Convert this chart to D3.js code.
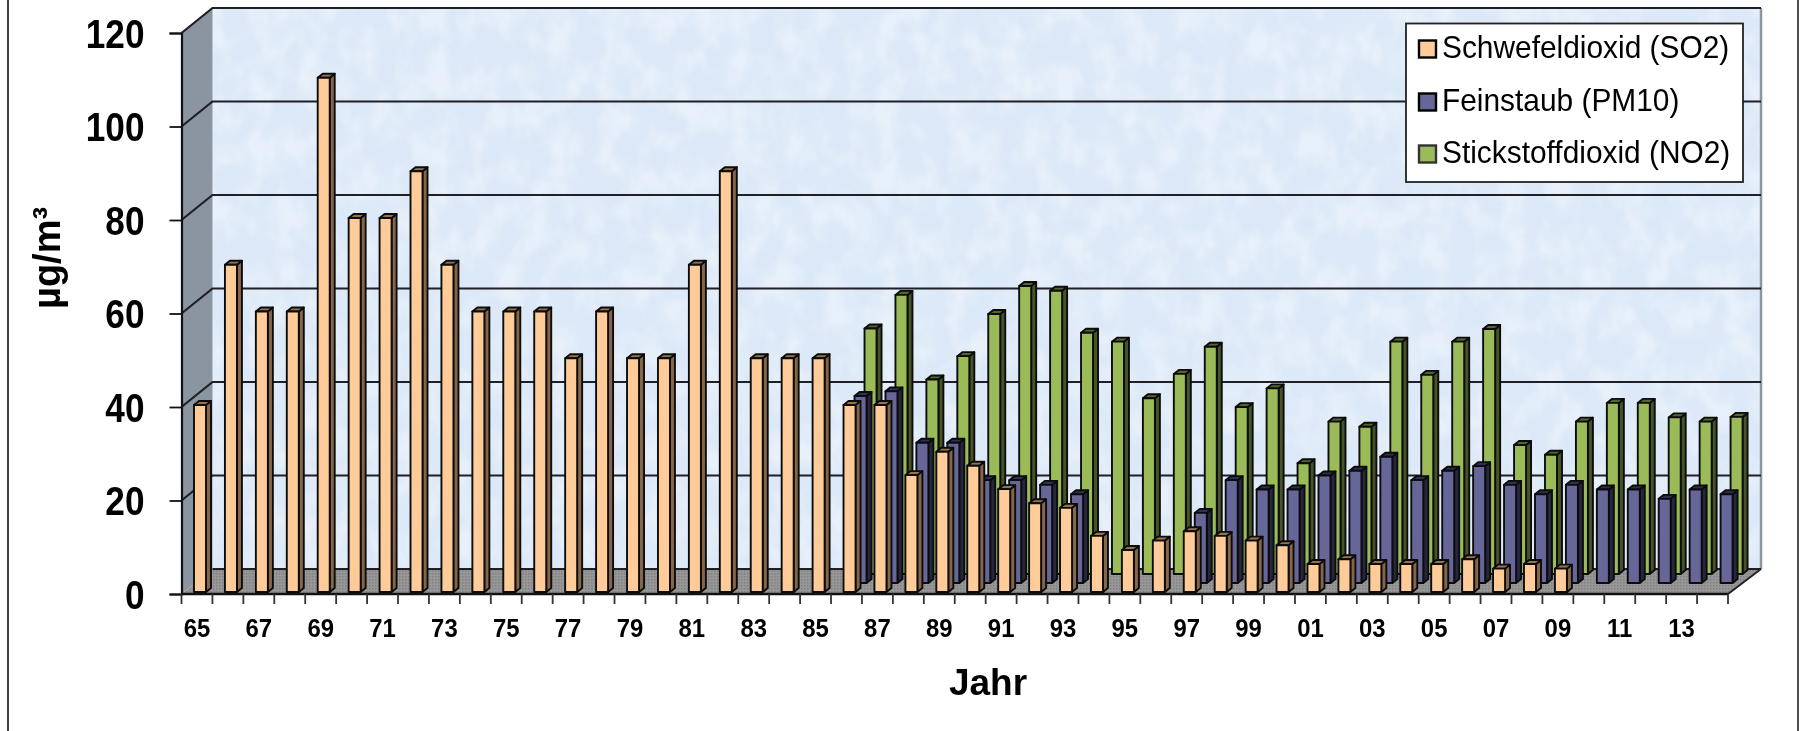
<!DOCTYPE html>
<html><head><meta charset="utf-8">
<script src="https://cdn.jsdelivr.net/npm/d3@7"></script>
<style>html,body{margin:0;padding:0;background:#fff;overflow:hidden}svg{display:block;filter:blur(0.6px)}text{font-family:"Liberation Sans",Arial,sans-serif;fill:#000}</style>
</head><body><svg id="c" width="1799" height="731"></svg>
<script>
const years = ["65","66","67","68","69","70","71","72","73","74","75","76","77","78","79","80","81","82","83","84","85","86","87","88","89","90","91","92","93","94","95","96","97","98","99","00","01","02","03","04","05","06","07","08","09","10","11","12","13","14"];
const so2 = [40,70,60,60,110,80,80,90,70,60,60,60,50,60,50,50,70,90,50,50,50,40,40,25,30,27,22,19,18,12,9,11,13,12,11,10,6,7,6,6,6,7,5,6,5,null,null,null,null,null];
const pm10 = [null,null,null,null,null,null,null,null,null,null,null,null,null,null,null,null,null,null,null,null,null,40,41,30,30,22,22,21,19,null,null,null,15,22,20,20,23,24,27,22,24,25,21,19,21,20,20,18,20,19];
const no2 = [null,null,null,null,null,null,null,null,null,null,null,null,null,null,null,null,null,null,null,null,null,52.5,59.7,41.6,46.6,55.6,61.6,60.6,51.6,49.7,37.6,42.8,48.6,35.7,39.7,23.7,32.6,31.5,49.7,42.6,49.7,52.4,27.6,25.5,32.6,36.6,36.6,33.5,32.6,33.6];
const yTicks = [0,20,40,60,80,100,120];
const seriesNames = ["Schwefeldioxid (SO2)","Feinstaub (PM10)","Stickstoffdioxid (NO2)"];
const xLabels = years.filter((d,i)=>i%2===0);

const svg = d3.select("#c");
const x = d3.scaleBand().domain(years).range([181.5,1728]);
const y = d3.scaleLinear().domain([0,120]).range([594,33]);
const step = x.step(), wallDx = 31, wallDy = 25, xEnd = 1728, xStart = 181.5;
const line = d3.line();

const defs = svg.append("defs");
const tex = defs.append("filter").attr("id","mott").attr("x",0).attr("y",0).attr("width","100%").attr("height","100%");
tex.append("feTurbulence").attr("type","fractalNoise").attr("baseFrequency","0.035 0.045").attr("numOctaves",4).attr("seed",7);
tex.append("feColorMatrix").attr("type","matrix").attr("values","0 0 0 0 0.72  0 0 0 0 0.80  0 0 0 0 0.92  2.4 0 0 0 -0.95");
const tex2 = defs.append("filter").attr("id","mott2").attr("x",0).attr("y",0).attr("width","100%").attr("height","100%");
tex2.append("feTurbulence").attr("type","fractalNoise").attr("baseFrequency","0.04 0.03").attr("numOctaves",3).attr("seed",23);
tex2.append("feColorMatrix").attr("type","matrix").attr("values","0 0 0 0 1  0 0 0 0 1  0 0 0 0 1  2.6 0 0 0 -1");
const pat = defs.append("pattern").attr("id","dith").attr("width",3).attr("height",3).attr("patternUnits","userSpaceOnUse");
pat.append("rect").attr("width",3).attr("height",3).attr("fill","#979797");
pat.append("rect").attr("width",1.5).attr("height",1.5).attr("fill","#828282");

// page frame
svg.append("path").attr("d",line([[8,0],[8,731]])).attr("stroke","#111").attr("stroke-width",1.6).attr("fill","none");
svg.append("path").attr("d",line([[1798,0],[1798,731]])).attr("stroke","#222").attr("stroke-width",1.6).attr("fill","none");

// back wall
const bx0 = xStart+wallDx, bx1 = xEnd+wallDx+2, by0 = y(120)-wallDy, by1 = y(0)-wallDy;
const wall = svg.append("g");
wall.append("rect").attr("x",bx0).attr("y",by0).attr("width",bx1-bx0).attr("height",by1-by0).attr("fill","#dce9f8");
wall.append("rect").attr("x",bx0).attr("y",by0).attr("width",bx1-bx0).attr("height",by1-by0).attr("filter","url(#mott)").attr("opacity",.45);
wall.append("rect").attr("x",bx0).attr("y",by0).attr("width",bx1-bx0).attr("height",by1-by0).attr("filter","url(#mott2)").attr("opacity",.35);
// left wall, floor
svg.append("path").attr("d",line([[xStart,y(120)],[bx0,by0],[bx0,by1],[xStart,y(0)]])+"Z").attr("fill","#8a95a1");
svg.append("path").attr("d",line([[xStart,y(0)],[xEnd,y(0)],[bx1,by1],[bx0,by1]])+"Z").attr("fill","url(#dith)");
svg.append("path").attr("d",line([[bx1,by0],[bx1,by1]])).attr("stroke","#8b96a3").attr("stroke-width",2.5);

// gridlines on the walls
const grid = svg.append("g").attr("fill","none").attr("stroke","#1f1f24").attr("stroke-width",2.2);
yTicks.forEach(v=>{
  const pts = v===0 ? [[bx0,y(v)-wallDy],[bx1,y(v)-wallDy]] : [[xStart,y(v)],[bx0,y(v)-wallDy],[bx1,y(v)-wallDy]];
  grid.append("path").attr("d",line(pts));
});

// bars
const series = [
  {vals:no2, off:33.5, base:20, f:"#9bbb59", s:"#465427", t:"#55652e"},
  {vals:pm10,off:23.5, base:11, f:"#666699", s:"#26263f", t:"#2f2f52"},
  {vals:so2, off:12.5, base:2,  f:"#ffcc99", s:"#86664a", t:"#96734f"}
];
const barW = 12, dx = 5, dy = 4;
series.forEach(S=>{
  const g = svg.append("g").attr("stroke","#0c0c0c").attr("stroke-width",1.9).attr("stroke-linejoin","round");
  const rows = years.map((yr,i)=>({yr,v:S.vals[i]})).filter(d=>d.v!==null);
  const bars = g.selectAll("g").data(rows).join("g");
  const X = d=>x(d.yr)+S.off;
  const B = y(0)-S.base;
  const T = d=>B-(y(0)-y(d.v));
  bars.append("path").attr("fill",S.s).attr("d",d=>line([[X(d)+barW,B],[X(d)+barW+dx,B-dy],[X(d)+barW+dx,T(d)-dy],[X(d)+barW,T(d)]])+"Z");
  bars.append("path").attr("fill",S.t).attr("d",d=>line([[X(d),T(d)],[X(d)+dx,T(d)-dy],[X(d)+barW+dx,T(d)-dy],[X(d)+barW,T(d)]])+"Z");
  bars.append("rect").attr("fill",S.f).attr("x",X).attr("y",T).attr("width",barW).attr("height",d=>B-T(d));
});

// axes
const ax = svg.append("g");
const yAxis = d3.axisLeft(y).tickValues(yTicks).tickSize(12).tickPadding(0).tickFormat(d3.format("d"));
const yG = ax.append("g").attr("transform",`translate(${xStart},0)`).call(yAxis);
yG.select(".domain").attr("stroke","#111").attr("stroke-width",2.2);
yG.selectAll(".tick line").attr("stroke","#111").attr("stroke-width",1.8);
yG.selectAll(".tick text").each(function(){
  d3.select(this).attr("x",null).attr("y",null).attr("dy",null).attr("text-anchor","end").attr("font-size",40).attr("font-weight","bold")
   .attr("transform","translate(-37,14) scale(.88,1)").style("fill","#000");
});
// diagonal corner
svg.append("path").attr("d",line([[xEnd,y(0)],[bx1,by1]])).attr("stroke","#222").attr("stroke-width",2).attr("fill","none");
// x axis
svg.append("path").attr("d",line([[xStart,y(0)],[xEnd,y(0)]])).attr("stroke","#111").attr("stroke-width",2.6).attr("fill","none");
const tg = svg.append("g").attr("stroke","#333").attr("stroke-width",1.8);
years.concat(["end"]).forEach(d=>{
  const px = d==="end" ? x.range()[1] : x(d);
  tg.append("path").attr("d",line([[px,y(0)],[px,y(0)+10]]));
});
svg.append("g").selectAll("text").data(xLabels).join("text")
  .attr("transform",d=>`translate(${x(d)+step/2},637) scale(.92,1)`).attr("text-anchor","middle")
  .attr("font-size",26).attr("font-weight","bold").text(d=>d);

// titles
svg.append("text").attr("x",988).attr("y",695).attr("text-anchor","middle").attr("font-size",37).attr("font-weight","bold").text("Jahr");
svg.append("text").attr("transform","translate(60,309) rotate(-90)").attr("font-size",38).attr("font-weight","bold").text("µg/m³");

// legend
const leg = svg.append("g");
leg.append("rect").attr("x",1406).attr("y",23.5).attr("width",337).attr("height",158.5).attr("fill","#fff").attr("stroke","#222").attr("stroke-width",1.8);
const legY = [58,111,163], legFill = ["#ffcc99","#666699","#9bbb59"], legStroke = ["#000","#000","#333"];
seriesNames.forEach((n,i)=>{
  leg.append("rect").attr("x",1419).attr("y",legY[i]-17.5).attr("width",17).attr("height",17).attr("fill",legFill[i]).attr("stroke",legStroke[i]).attr("stroke-width",2.4);
  leg.append("text").attr("transform",`translate(1442,${legY[i]}) scale(.98,1.04)`).attr("font-size",30.5).text(n);
});
</script></body></html>
